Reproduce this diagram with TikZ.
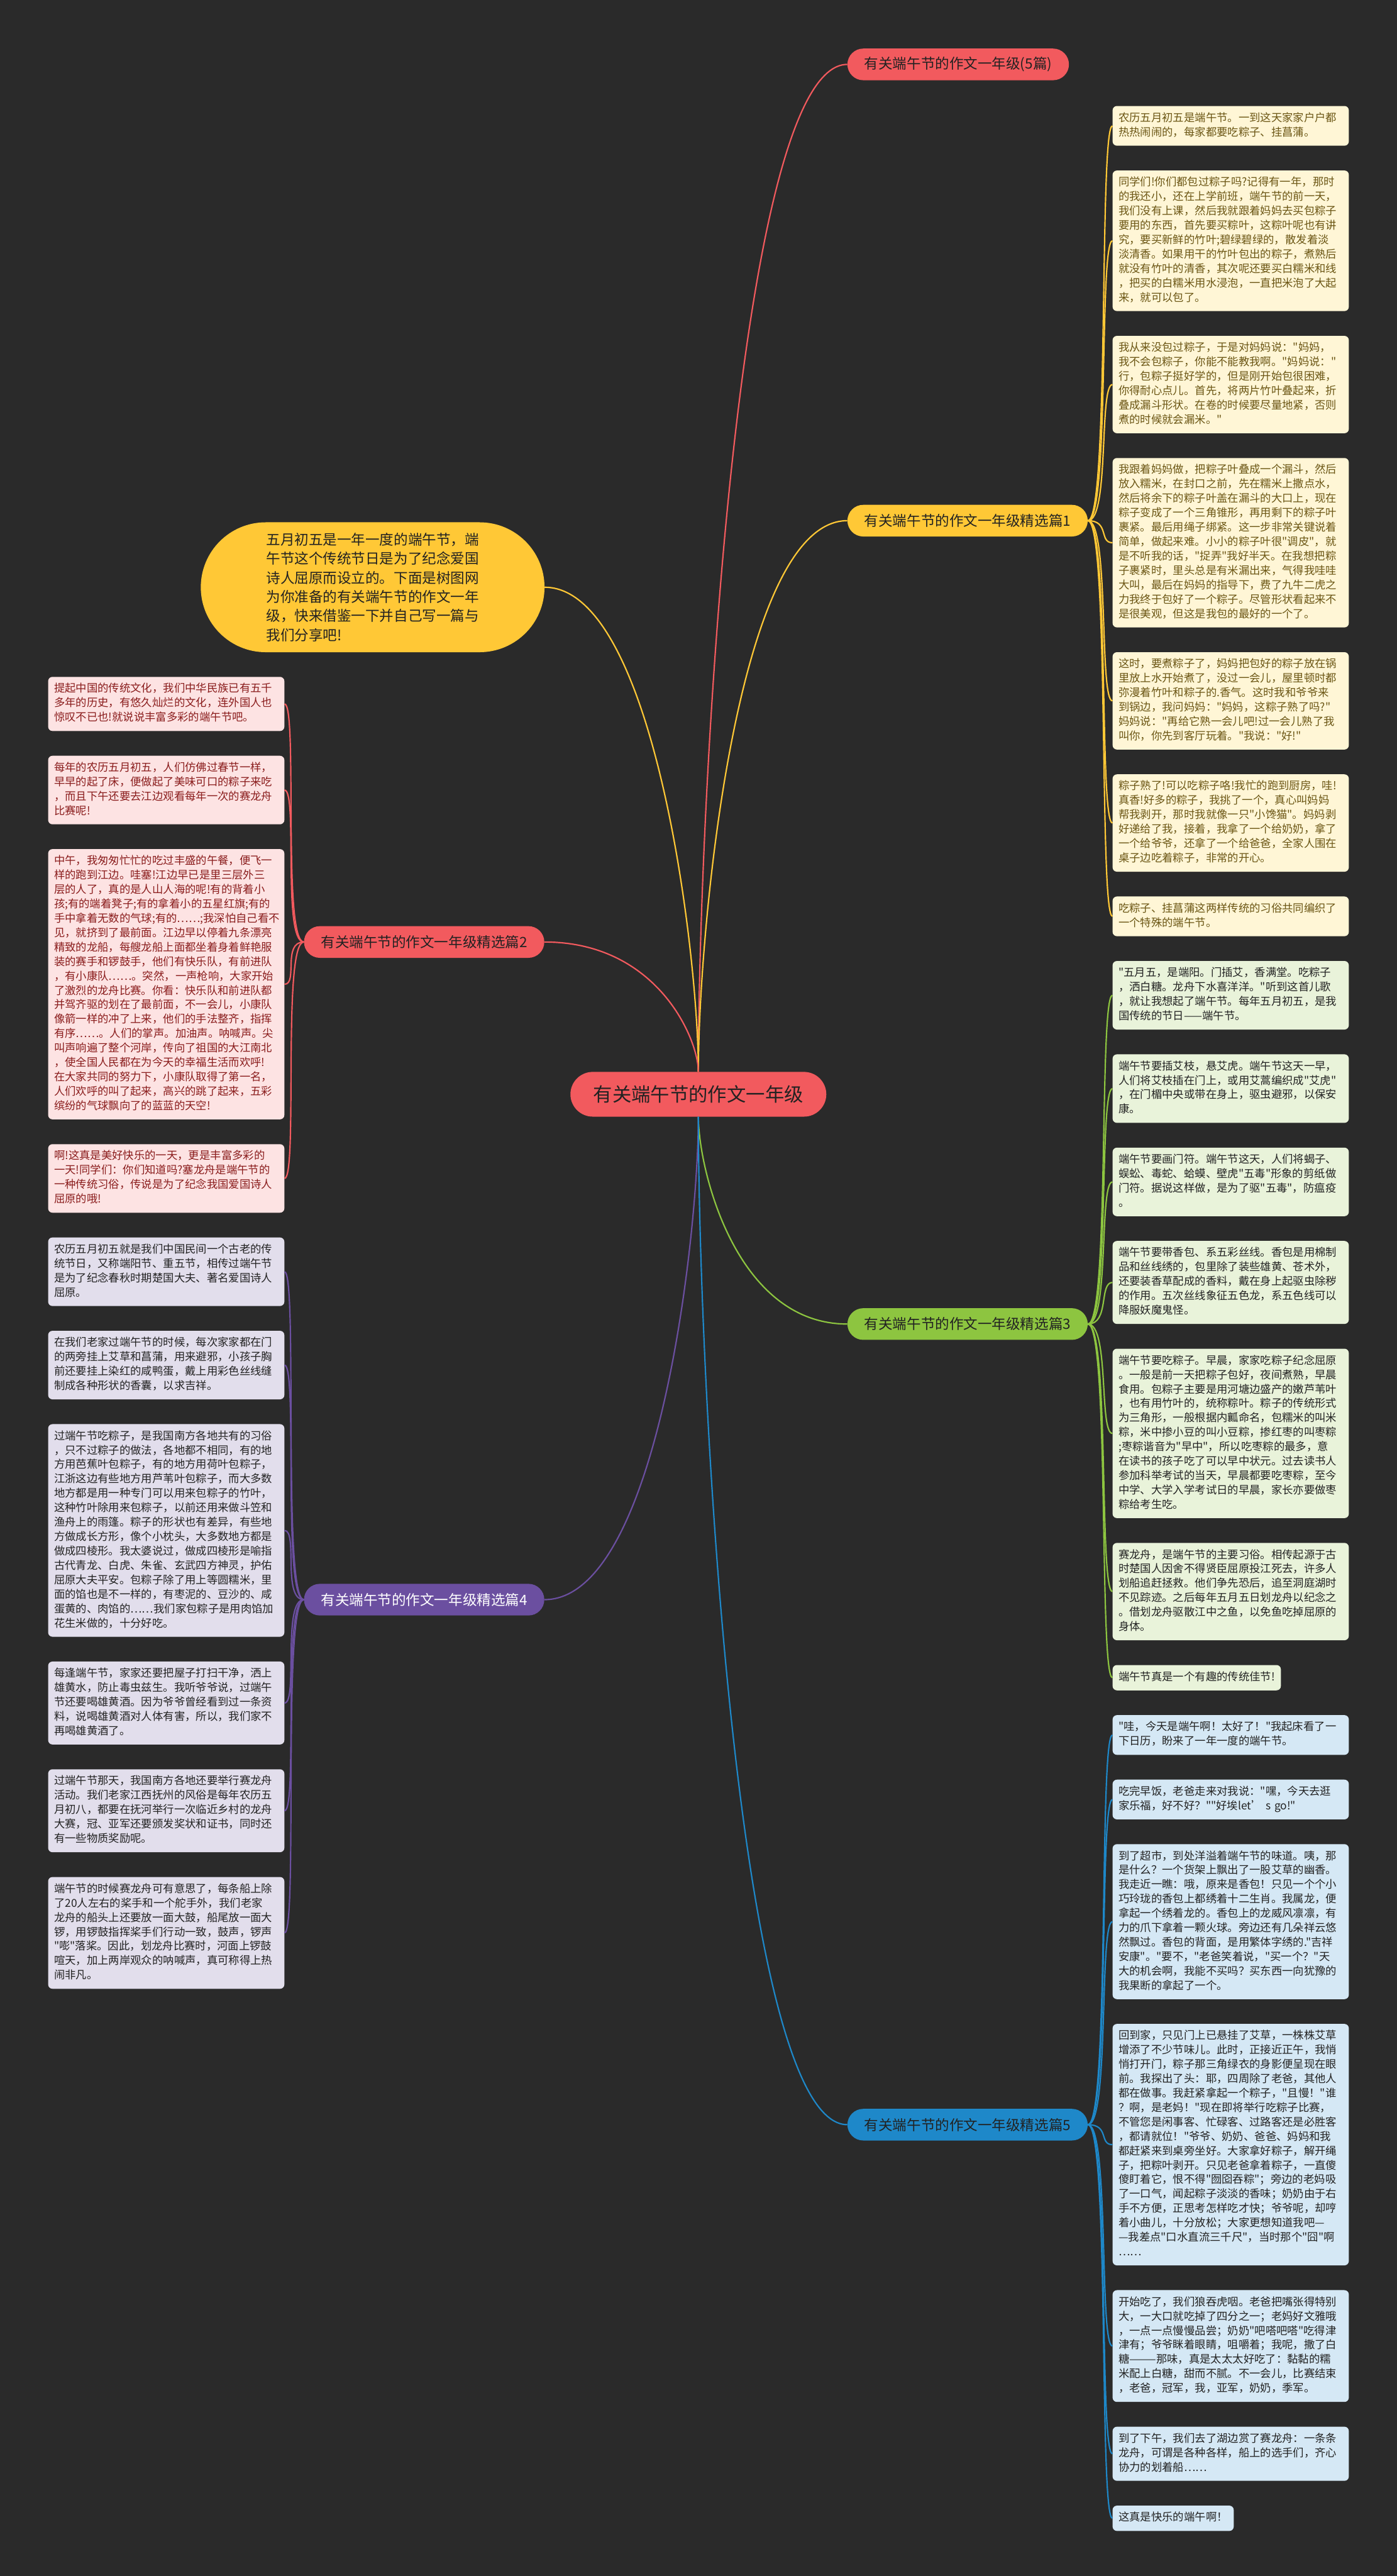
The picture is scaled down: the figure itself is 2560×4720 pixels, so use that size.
\documentclass[tikz,border=0pt]{standalone}
\usepackage{fontspec}
\setmainfont{Noto Sans CJK SC}[Ligatures=TeXOff]
\usetikzlibrary{positioning}

\definecolor{bgc}{HTML}{2A2A2A}
\definecolor{redc}{HTML}{F25A5E}
\definecolor{yelc}{HTML}{FFC836}
\definecolor{grnc}{HTML}{8DC540}
\definecolor{purc}{HTML}{6B4FA0}
\definecolor{bluc}{HTML}{1E88C9}
\definecolor{redl}{HTML}{FDE3E3}
\definecolor{yell}{HTML}{FFF6D6}
\definecolor{grnl}{HTML}{E9F3DA}
\definecolor{purl}{HTML}{E2DEEC}
\definecolor{blul}{HTML}{D5E8F5}
\definecolor{redt}{HTML}{8A1C1C}
\definecolor{yelt}{HTML}{6B5614}
\definecolor{inkt}{HTML}{222222}

\newcommand{\leaffont}{\fontsize{20pt}{26.4pt}\selectfont}

\begin{document}
\begin{tikzpicture}[
  x=1pt, y=1pt,
  node distance=45pt,
  root/.style={
    rectangle,
    rounded corners=41pt,
    fill=redc,
    text=inkt,
    inner xsep=42pt,
    inner ysep=0pt,
    minimum height=82pt,
    font=\fontsize{35pt}{40pt}\selectfont
  },
  branch/.style={
    rectangle,
    rounded corners=29pt,
    fill=#1,
    text=inkt,
    inner xsep=31pt,
    inner ysep=0pt,
    minimum height=58pt,
    font=\fontsize{26pt}{30pt}\selectfont
  },
  intro/.style={
    rectangle,
    rounded corners=119pt,
    fill=yelc,
    text=inkt,
    align=left,
    minimum width=630pt,
    minimum height=238pt,
    font=\fontsize{26pt}{35pt}\selectfont
  },
  leaf/.style={
    rectangle,
    rounded corners=8pt,
    align=left,
    inner xsep=11pt,
    inner ysep=10pt,
    font=\leaffont,
    execute at begin node={\noindent\strut},
    execute at end node=\strut
  },
  wide/.style={text width=411pt},
  yleaf/.style={leaf, fill=yell, text=yelt},
  rleaf/.style={leaf, wide, fill=redl, text=redt},
  gleaf/.style={leaf, fill=grnl, text=inkt},
  pleaf/.style={leaf, wide, fill=purl, text=inkt},
  bleaf/.style={leaf, fill=blul, text=inkt},
  link/.style={line width=2.5pt, draw=#1}
]
\fill[bgc] (0,0) rectangle (2560,-4720);
\useasboundingbox (0,0) rectangle (2560,-4720);

% centre and main branches
\node[root] (root) at (1280,-2005) {有关端午节的作文一年级};
\node[branch=redc, anchor=west] (b0) at (1553,-118) {有关端午节的作文一年级(5篇)};
\node[branch=yelc, anchor=west] (b1) at (1553,-954) {有关端午节的作文一年级精选篇1};
\node[branch=redc, anchor=west] (b2) at (557,-1726) {有关端午节的作文一年级精选篇2};
\node[branch=grnc, anchor=west] (b3) at (1553,-2426) {有关端午节的作文一年级精选篇3};
\node[branch=purc, anchor=west, text=white] (b4) at (557,-2931) {有关端午节的作文一年级精选篇4};
\node[branch=bluc, anchor=west] (b5) at (1553,-3893) {有关端午节的作文一年级精选篇5};

\node[intro] (intro) at (683,-1076) {五月初五是一年一度的端午节，端\\午节这个传统节日是为了纪念爱国\\诗人屈原而设立的。下面是树图网\\为你准备的有关端午节的作文一年\\级，快来借鉴一下并自己写一篇与\\我们分享吧!};

% right column
\node[yleaf, wide, anchor=north west] (l1a) at (2039,-194) {农历五月初五是端午节。一到这天家家户户都\\热热闹闹的，每家都要吃粽子、挂菖蒲。};
\node[yleaf, wide, below=of l1a.south west, anchor=north west] (l1b) {同学们!你们都包过粽子吗?记得有一年，那时\\的我还小，还在上学前班，端午节的前一天，\\我们没有上课，然后我就跟着妈妈去买包粽子\\要用的东西，首先要买粽叶，这粽叶呢也有讲\\究，要买新鲜的竹叶;碧绿碧绿的，散发着淡\\淡清香。如果用干的竹叶包出的粽子，煮熟后\\就没有竹叶的清香，其次呢还要买白糯米和线\\，把买的白糯米用水浸泡，一直把米泡了大起\\来，就可以包了。};
\node[yleaf, wide, below=of l1b.south west, anchor=north west] (l1c) {我从来没包过粽子，于是对妈妈说："妈妈，\\我不会包粽子，你能不能教我啊。"妈妈说："\\行，包粽子挺好学的，但是刚开始包很困难，\\你得耐心点儿。首先，将两片竹叶叠起来，折\\叠成漏斗形状。在卷的时候要尽量地紧，否则\\煮的时候就会漏米。"};
\node[yleaf, wide, below=of l1c.south west, anchor=north west] (l1d) {我跟着妈妈做，把粽子叶叠成一个漏斗，然后\\放入糯米，在封口之前，先在糯米上撒点水，\\然后将余下的粽子叶盖在漏斗的大口上，现在\\粽子变成了一个三角锥形，再用剩下的粽子叶\\裹紧。最后用绳子绑紧。这一步非常关键说着\\简单，做起来难。小小的粽子叶很"调皮"，就\\是不听我的话，"捉弄"我好半天。在我想把粽\\子裹紧时，里头总是有米漏出来，气得我哇哇\\大叫，最后在妈妈的指导下，费了九牛二虎之\\力我终于包好了一个粽子。尽管形状看起来不\\是很美观，但这是我包的最好的一个了。};
\node[yleaf, wide, below=of l1d.south west, anchor=north west] (l1e) {这时，要煮粽子了，妈妈把包好的粽子放在锅\\里放上水开始煮了，没过一会儿，屋里顿时都\\弥漫着竹叶和粽子的.香气。这时我和爷爷来\\到锅边，我问妈妈："妈妈，这粽子熟了吗?"\\妈妈说："再给它熟一会儿吧!过一会儿熟了我\\叫你，你先到客厅玩着。"我说："好!"};
\node[yleaf, wide, below=of l1e.south west, anchor=north west] (l1f) {粽子熟了!可以吃粽子咯!我忙的跑到厨房，哇!\\真香!好多的粽子，我挑了一个，真心叫妈妈\\帮我剥开，那时我就像一只"小馋猫"。妈妈剥\\好递给了我，接着，我拿了一个给奶奶，拿了\\一个给爷爷，还拿了一个给爸爸，全家人围在\\桌子边吃着粽子，非常的开心。};
\node[yleaf, wide, below=of l1f.south west, anchor=north west] (l1g) {吃粽子、挂菖蒲这两样传统的习俗共同编织了\\一个特殊的端午节。};

\node[gleaf, wide, below=of l1g.south west, anchor=north west] (l3a) {"五月五，是端阳。门插艾，香满堂。吃粽子\\，洒白糖。龙舟下水喜洋洋。"听到这首儿歌\\，就让我想起了端午节。每年五月初五，是我\\国传统的节日——端午节。};
\node[gleaf, wide, below=of l3a.south west, anchor=north west] (l3b) {端午节要插艾枝，悬艾虎。端午节这天一早，\\人们将艾枝插在门上，或用艾蒿编织成"艾虎"\\，在门楣中央或带在身上，驱虫避邪，以保安\\康。};
\node[gleaf, wide, below=of l3b.south west, anchor=north west] (l3c) {端午节要画门符。端午节这天，人们将蝎子、\\蜈蚣、毒蛇、蛤蟆、壁虎"五毒"形象的剪纸做\\门符。据说这样做，是为了驱"五毒"，防瘟疫\\。};
\node[gleaf, wide, below=of l3c.south west, anchor=north west] (l3d) {端午节要带香包、系五彩丝线。香包是用棉制\\品和丝线绣的，包里除了装些雄黄、苍术外，\\还要装香草配成的香料，戴在身上起驱虫除秽\\的作用。五次丝线象征五色龙，系五色线可以\\降服妖魔鬼怪。};
\node[gleaf, wide, below=of l3d.south west, anchor=north west] (l3e) {端午节要吃粽子。早晨，家家吃粽子纪念屈原\\。一般是前一天把粽子包好，夜间煮熟，早晨\\食用。包粽子主要是用河塘边盛产的嫩芦苇叶\\，也有用竹叶的，统称粽叶。粽子的传统形式\\为三角形，一般根据内瓤命名，包糯米的叫米\\粽，米中掺小豆的叫小豆粽，掺红枣的叫枣粽\\;枣粽谐音为"早中"，所以吃枣粽的最多，意\\在读书的孩子吃了可以早中状元。过去读书人\\参加科举考试的当天，早晨都要吃枣粽，至今\\中学、大学入学考试日的早晨，家长亦要做枣\\粽给考生吃。};
\node[gleaf, wide, below=of l3e.south west, anchor=north west] (l3f) {赛龙舟，是端午节的主要习俗。相传起源于古\\时楚国人因舍不得贤臣屈原投江死去，许多人\\划船追赶拯救。他们争先恐后，追至洞庭湖时\\不见踪迹。之后每年五月五日划龙舟以纪念之\\。借划龙舟驱散江中之鱼，以免鱼吃掉屈原的\\身体。};
\node[gleaf, below=of l3f.south west, anchor=north west] (l3g) {端午节真是一个有趣的传统佳节!};

\node[bleaf, wide, below=of l3g.south west, anchor=north west] (l5a) {"哇，今天是端午啊！太好了！"我起床看了一\\下日历，盼来了一年一度的端午节。};
\node[bleaf, wide, below=of l5a.south west, anchor=north west] (l5b) {吃完早饭，老爸走来对我说："嘿，今天去逛\\家乐福，好不好？""好埃let’ s go!"};
\node[bleaf, wide, below=of l5b.south west, anchor=north west] (l5c) {到了超市，到处洋溢着端午节的味道。咦，那\\是什么？一个货架上飘出了一股艾草的幽香。\\我走近一瞧：哦，原来是香包！只见一个个小\\巧玲珑的香包上都绣着十二生肖。我属龙，便\\拿起一个绣着龙的。香包上的龙威风凛凛，有\\力的爪下拿着一颗火球。旁边还有几朵祥云悠\\然飘过。香包的背面，是用繁体字绣的."吉祥\\安康"。"要不，"老爸笑着说，"买一个？"天\\大的机会啊，我能不买吗？买东西一向犹豫的\\我果断的拿起了一个。};
\node[bleaf, wide, below=of l5c.south west, anchor=north west] (l5d) {回到家，只见门上已悬挂了艾草，一株株艾草\\增添了不少节味儿。此时，正接近正午，我悄\\悄打开门，粽子那三角绿衣的身影便呈现在眼\\前。我探出了头：耶，四周除了老爸，其他人\\都在做事。我赶紧拿起一个粽子，"且慢！"谁\\？啊，是老妈！"现在即将举行吃粽子比赛，\\不管您是闲事客、忙碌客、过路客还是必胜客\\，都请就位！"爷爷、奶奶、爸爸、妈妈和我\\都赶紧来到桌旁坐好。大家拿好粽子，解开绳\\子，把粽叶剥开。只见老爸拿着粽子，一直傻\\傻盯着它，恨不得"囫囵吞粽"；旁边的老妈吸\\了一口气，闻起粽子淡淡的香味；奶奶由于右\\手不方便，正思考怎样吃才快；爷爷呢，却哼\\着小曲儿，十分放松；大家更想知道我吧—\\—我差点"口水直流三千尺"，当时那个"囧"啊\\……};
\node[bleaf, wide, below=of l5d.south west, anchor=north west] (l5e) {开始吃了，我们狼吞虎咽。老爸把嘴张得特别\\大，一大口就吃掉了四分之一；老妈好文雅哦\\，一点一点慢慢品尝；奶奶"吧嗒吧嗒"吃得津\\津有；爷爷眯着眼睛，咀嚼着；我呢，撒了白\\糖———那味，真是太太太好吃了：黏黏的糯\\米配上白糖，甜而不腻。不一会儿，比赛结束\\，老爸，冠军，我，亚军，奶奶，季军。};
\node[bleaf, wide, below=of l5e.south west, anchor=north west] (l5f) {到了下午，我们去了湖边赏了赛龙舟：一条条\\龙舟，可谓是各种各样，船上的选手们，齐心\\协力的划着船……};
\node[bleaf, below=of l5f.south west, anchor=north west] (l5g) {这真是快乐的端午啊！};

% left column
\node[rleaf, anchor=north west] (l2a) at (88,-1240) {提起中国的传统文化，我们中华民族已有五千\\多年的历史，有悠久灿烂的文化，连外国人也\\惊叹不已也!就说说丰富多彩的端午节吧。};
\node[rleaf, below=of l2a.south west, anchor=north west] (l2b) {每年的农历五月初五，人们仿佛过春节一样，\\早早的起了床，便做起了美味可口的粽子来吃\\，而且下午还要去江边观看每年一次的赛龙舟\\比赛呢!};
\node[rleaf, below=of l2b.south west, anchor=north west] (l2c) {中午，我匆匆忙忙的吃过丰盛的午餐，便飞一\\样的跑到江边。哇塞!江边早已是里三层外三\\层的人了，真的是人山人海的呢!有的背着小\\孩;有的端着凳子;有的拿着小的五星红旗;有的\\手中拿着无数的气球;有的……;我深怕自己看不\\见，就挤到了最前面。江边早以停着九条漂亮\\精致的龙船，每艘龙船上面都坐着身着鲜艳服\\装的赛手和锣鼓手，他们有快乐队，有前进队\\，有小康队……。突然，一声枪响，大家开始\\了激烈的龙舟比赛。你看：快乐队和前进队都\\并驾齐驱的划在了最前面，不一会儿，小康队\\像箭一样的冲了上来，他们的手法整齐，指挥\\有序……。人们的掌声。加油声。呐喊声。尖\\叫声响遍了整个河岸，传向了祖国的大江南北\\，使全国人民都在为今天的幸福生活而欢呼!\\在大家共同的努力下，小康队取得了第一名，\\人们欢呼的叫了起来，高兴的跳了起来，五彩\\缤纷的气球飘向了的蓝蓝的天空!};
\node[rleaf, below=of l2c.south west, anchor=north west] (l2d) {啊!这真是美好快乐的一天，更是丰富多彩的\\一天!同学们：你们知道吗?塞龙舟是端午节的\\一种传统习俗，传说是为了纪念我国爱国诗人\\屈原的哦!};

\node[pleaf, below=of l2d.south west, anchor=north west] (l4a) {农历五月初五就是我们中国民间一个古老的传\\统节日，又称端阳节、重五节，相传过端午节\\是为了纪念春秋时期楚国大夫、著名爱国诗人\\屈原。};
\node[pleaf, below=of l4a.south west, anchor=north west] (l4b) {在我们老家过端午节的时候，每次家家都在门\\的两旁挂上艾草和菖蒲，用来避邪，小孩子胸\\前还要挂上染红的咸鸭蛋，戴上用彩色丝线缝\\制成各种形状的香囊，以求吉祥。};
\node[pleaf, below=of l4b.south west, anchor=north west] (l4c) {过端午节吃粽子，是我国南方各地共有的习俗\\，只不过粽子的做法，各地都不相同，有的地\\方用芭蕉叶包粽子，有的地方用荷叶包粽子，\\江浙这边有些地方用芦苇叶包粽子，而大多数\\地方都是用一种专门可以用来包粽子的竹叶，\\这种竹叶除用来包粽子，以前还用来做斗笠和\\渔舟上的雨篷。粽子的形状也有差异，有些地\\方做成长方形，像个小枕头，大多数地方都是\\做成四棱形。我太婆说过，做成四棱形是喻指\\古代青龙、白虎、朱雀、玄武四方神灵，护佑\\屈原大夫平安。包粽子除了用上等圆糯米，里\\面的馅也是不一样的，有枣泥的、豆沙的、咸\\蛋黄的、肉馅的……我们家包粽子是用肉馅加\\花生米做的，十分好吃。};
\node[pleaf, below=of l4c.south west, anchor=north west] (l4d) {每逢端午节，家家还要把屋子打扫干净，洒上\\雄黄水，防止毒虫兹生。我听爷爷说，过端午\\节还要喝雄黄酒。因为爷爷曾经看到过一条资\\料，说喝雄黄酒对人体有害，所以，我们家不\\再喝雄黄酒了。};
\node[pleaf, below=of l4d.south west, anchor=north west] (l4e) {过端午节那天，我国南方各地还要举行赛龙舟\\活动。我们老家江西抚州的风俗是每年农历五\\月初八，都要在抚河举行一次临近乡村的龙舟\\大赛，冠、亚军还要颁发奖状和证书，同时还\\有一些物质奖励呢。};
\node[pleaf, below=of l4e.south west, anchor=north west] (l4f) {端午节的时候赛龙舟可有意思了，每条船上除\\了20人左右的桨手和一个舵手外，我们老家\\龙舟的船头上还要放一面大鼓，船尾放一面大\\锣，用锣鼓指挥桨手们行动一致，鼓声，锣声\\"嘭"落桨。因此，划龙舟比赛时，河面上锣鼓\\喧天，加上两岸观众的呐喊声，真可称得上热\\闹非凡。};

% connectors from the centre
\draw[link=redc] (root.north) .. controls +(0,460) and +(-205,0) .. (b0.west);
\draw[link=yelc] (root.north) .. controls +(0,250) and +(-205,0) .. (b1.west);
\draw[link=yelc] (root.north) .. controls +(0,220) and +(200,0) .. (intro.east);
\draw[link=redc] (root.north) .. controls +(0,60) and +(207,0) .. (b2.east);
\draw[link=grnc] (root.south) .. controls +(0,-95) and +(-205,0) .. (b3.west);
\draw[link=purc] (root.south) .. controls +(0,-221) and +(207,0) .. (b4.east);
\draw[link=bluc] (root.south) .. controls +(0,-462) and +(-205,0) .. (b5.west);

% connectors to the leaves
\foreach \n in {l1a,l1b,l1c,l1d,l1e,l1f,l1g}
  \draw[link=yelc] (b1.east) .. controls +(40,0) and +(-25,0) .. (\n.west);
\foreach \n in {l3a,l3b,l3c,l3d,l3e,l3f,l3g}
  \draw[link=grnc] (b3.east) .. controls +(40,0) and +(-25,0) .. (\n.west);
\foreach \n in {l5a,l5b,l5c,l5d,l5e,l5f,l5g}
  \draw[link=bluc] (b5.east) .. controls +(40,0) and +(-25,0) .. (\n.west);
\foreach \n in {l2a,l2b,l2c,l2d}
  \draw[link=redc] (b2.west) .. controls +(-40,0) and +(25,0) .. (\n.east);
\foreach \n in {l4a,l4b,l4c,l4d,l4e,l4f}
  \draw[link=purc] (b4.west) .. controls +(-40,0) and +(25,0) .. (\n.east);
\end{tikzpicture}
\end{document}
